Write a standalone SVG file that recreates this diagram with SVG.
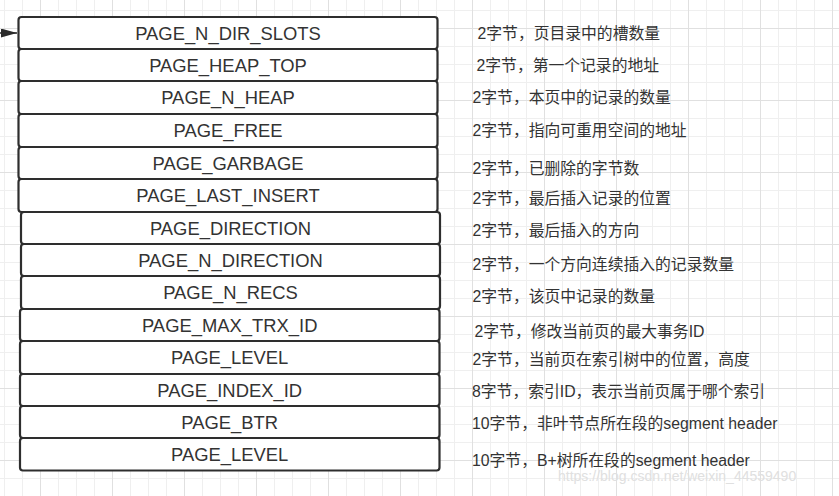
<svg xmlns="http://www.w3.org/2000/svg" width="839" height="496" viewBox="0 0 839 496">
<defs>
<pattern id="grid" patternUnits="userSpaceOnUse" x="40" y="28" width="72" height="72">
<path d="M18.5 0V72M36.5 0V72M54.5 0V72M0 18.5H72M0 36.5H72M0 54.5H72" stroke="#efefef" stroke-width="1" fill="none"/>
<path d="M0.5 0V72M0 0.5H72" stroke="#e0e0e0" stroke-width="1" fill="none"/>
</pattern>
<marker id="arr" markerWidth="17" markerHeight="10" refX="16" refY="4.5" orient="auto" markerUnits="userSpaceOnUse">
<path d="M0 0L16 4.5L0 9Z" fill="#2a2a2a"/>
</marker>
</defs>
<style>
.box{fill:#fff;stroke:#2e2e2e;stroke-width:2.2}
.lbl{font-family:"Liberation Sans",Arial,sans-serif;font-size:18.4px;fill:#333;text-anchor:middle}
.desc{font-family:"Liberation Sans","Noto Sans CJK SC",sans-serif;font-size:15.8px;fill:#333}
.wm{font-family:"Liberation Sans",Arial,sans-serif;font-size:14px;fill:#e0e0e0}
</style>
<rect width="839" height="496" fill="#fff"/>
<rect width="839" height="496" fill="url(#grid)"/>
<g id="connectors">
<line x1="0" y1="33" x2="17" y2="33" stroke="#2a2a2a" stroke-width="1.5" marker-end="url(#arr)"/>
</g>
<g id="n1"><rect class="box" x="18.5" y="17" width="419" height="32" rx="3"/><text class="lbl" x="228" y="40">PAGE_N_DIR_SLOTS</text></g>
<g id="n2"><rect class="box" x="18.5" y="49" width="419" height="32" rx="3"/><text class="lbl" x="228" y="72">PAGE_HEAP_TOP</text></g>
<g id="n3"><rect class="box" x="18.5" y="81" width="419" height="33" rx="3"/><text class="lbl" x="228" y="104">PAGE_N_HEAP</text></g>
<g id="n4"><rect class="box" x="18.5" y="114" width="419" height="33" rx="3"/><text class="lbl" x="228" y="137">PAGE_FREE</text></g>
<g id="n5"><rect class="box" x="18.5" y="147" width="419" height="32" rx="3"/><text class="lbl" x="228" y="169.5">PAGE_GARBAGE</text></g>
<g id="n6"><rect class="box" x="18.5" y="179" width="419" height="33" rx="3"/><text class="lbl" x="228" y="202">PAGE_LAST_INSERT</text></g>
<g id="n7"><rect class="box" x="21" y="212" width="419" height="32" rx="3"/><text class="lbl" x="230.5" y="234.5">PAGE_DIRECTION</text></g>
<g id="n8"><rect class="box" x="21" y="244" width="419" height="32" rx="3"/><text class="lbl" x="230.5" y="266.5">PAGE_N_DIRECTION</text></g>
<g id="n9"><rect class="box" x="21" y="276" width="419" height="33" rx="3"/><text class="lbl" x="230.5" y="299">PAGE_N_RECS</text></g>
<g id="n10"><rect class="box" x="20" y="309" width="419.5" height="32" rx="3"/><text class="lbl" x="229.7" y="331.5">PAGE_MAX_TRX_ID</text></g>
<g id="n11"><rect class="box" x="20" y="341" width="419.5" height="33" rx="3"/><text class="lbl" x="229.7" y="364">PAGE_LEVEL</text></g>
<g id="n12"><rect class="box" x="20" y="374" width="419.5" height="32" rx="3"/><text class="lbl" x="229.7" y="396.5">PAGE_INDEX_ID</text></g>
<g id="n13"><rect class="box" x="20" y="406" width="419.5" height="32" rx="3"/><text class="lbl" x="229.7" y="428.5">PAGE_BTR</text></g>
<g id="n14"><rect class="box" x="20" y="438" width="419.5" height="32.5" rx="3"/><text class="lbl" x="229.7" y="461">PAGE_LEVEL</text></g>
<g id="descriptions">
<text class="desc" x="477.5" y="39">2字节，页目录中的槽数量</text>
<text class="desc" x="476.5" y="70.5">2字节，第一个记录的地址</text>
<text class="desc" x="472.5" y="103">2字节，本页中的记录的数量</text>
<text class="desc" x="472.5" y="135.5">2字节，指向可重用空间的地址</text>
<text class="desc" x="472.5" y="173.5">2字节，已删除的字节数</text>
<text class="desc" x="472.5" y="204">2字节，最后插入记录的位置</text>
<text class="desc" x="472.5" y="235.5">2字节，最后插入的方向</text>
<text class="desc" x="472.5" y="269.5">2字节，一个方向连续插入的记录数量</text>
<text class="desc" x="472.5" y="302">2字节，该页中记录的数量</text>
<text class="desc" x="474.5" y="337">2字节，修改当前页的最大事务ID</text>
<text class="desc" x="472.5" y="364.5">2字节，当前页在索引树中的位置，高度</text>
<text class="desc" x="472" y="397">8字节，索引ID，表示当前页属于哪个索引</text>
<text class="desc" x="472" y="429">10字节，非叶节点所在段的segment header</text>
<text class="desc" x="472" y="465.5">10字节，B+树所在段的segment header</text>
</g>
<text class="wm" x="558" y="481">https://blog.csdn.net/weixin_44559490</text>
</svg>
